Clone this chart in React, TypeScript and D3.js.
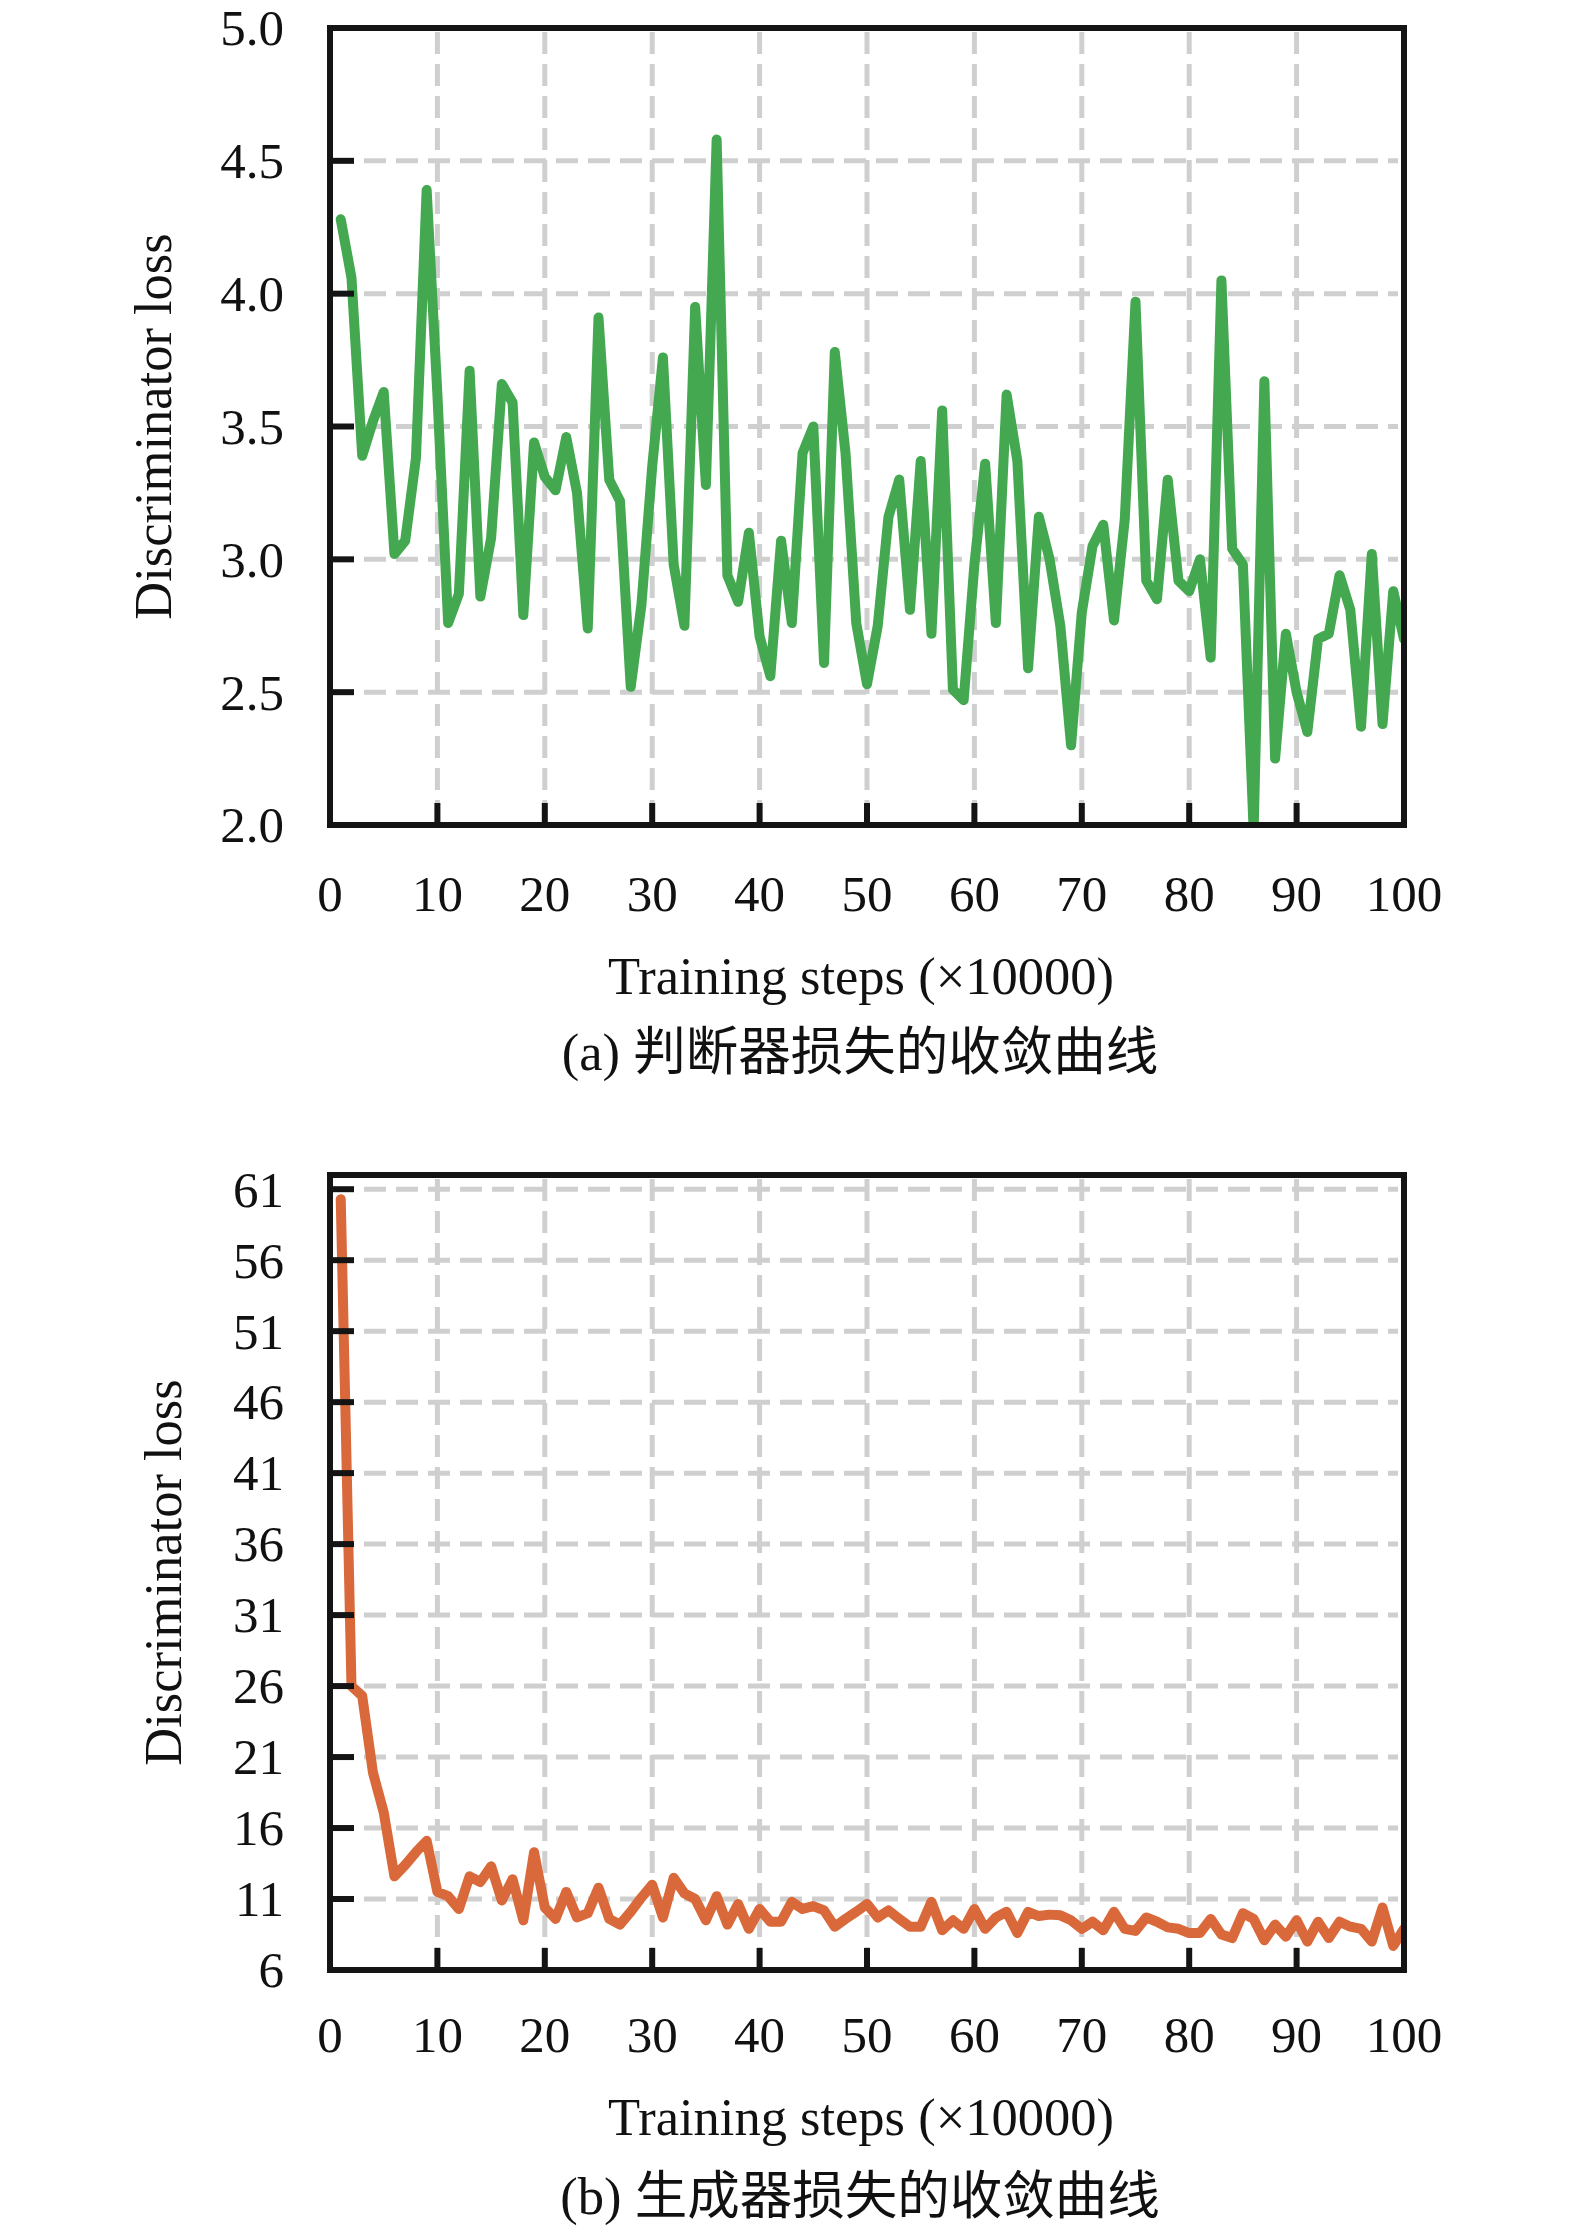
import { useEffect, useRef } from 'react';
import * as d3 from 'd3';

// x axis ticks (training steps, x10000)
const xTicks = [0, 10, 20, 30, 40, 50, 60, 70, 80, 90, 100];

// (a) discriminator loss
const discTicks = [2.0, 2.5, 3.0, 3.5, 4.0, 4.5, 5.0];
const discLoss = [
  4.28, 4.06, 3.39, 3.52, 3.63, 3.02, 3.07, 3.38, 4.39, 3.62,
  2.76, 2.87, 3.71, 2.86, 3.08, 3.66, 3.59, 2.79, 3.44, 3.31,
  3.26, 3.46, 3.25, 2.74, 3.91, 3.30, 3.22, 2.52, 2.83, 3.35,
  3.76, 2.98, 2.75, 3.95, 3.28, 4.58, 2.94, 2.84, 3.10, 2.71,
  2.56, 3.07, 2.76, 3.40, 3.50, 2.61, 3.78, 3.40, 2.76, 2.53,
  2.75, 3.16, 3.30, 2.81, 3.37, 2.72, 3.56, 2.51, 2.47, 2.98,
  3.36, 2.76, 3.62, 3.37, 2.59, 3.16, 3.00, 2.75, 2.30, 2.80,
  3.05, 3.13, 2.77, 3.15, 3.97, 2.92, 2.85, 3.30, 2.92, 2.88,
  3.00, 2.63, 4.05, 3.04, 2.98, 1.98, 3.67, 2.25, 2.72, 2.50,
  2.35, 2.70, 2.72, 2.94, 2.81, 2.37, 3.02, 2.38, 2.88, 2.70,
];

// (b) generator loss
const genTicks = [6, 11, 16, 21, 26, 31, 36, 41, 46, 51, 56, 61];
const genLoss = [
  60.3, 26.0, 25.3, 19.9, 17.1, 12.6, 13.4, 14.3, 15.1, 11.5,
  11.2, 10.3, 12.6, 12.2, 13.3, 10.9, 12.4, 9.5, 14.3, 10.4,
  9.6, 11.5, 9.7, 10.0, 11.8, 9.6, 9.2, 10.1, 11.1, 12.0,
  9.7, 12.5, 11.4, 11.0, 9.5, 11.2, 9.2, 10.65, 8.9, 10.3,
  9.4, 9.4, 10.8, 10.3, 10.5, 10.2, 9.05, 9.6, 10.1, 10.65,
  9.7, 10.2, 9.6, 9.05, 9.05, 10.8, 8.8, 9.5, 8.9, 10.3,
  8.9, 9.7, 10.1, 8.6, 10.1, 9.8, 9.9, 9.85, 9.5, 8.9,
  9.4, 8.8, 10.1, 8.9, 8.75, 9.7, 9.4, 9.0, 8.9, 8.6,
  8.6, 9.6, 8.5, 8.25, 10.0, 9.6, 8.1, 9.2, 8.35, 9.5,
  8.0, 9.4, 8.25, 9.4, 9.05, 8.9, 8.0, 10.4, 7.7, 8.9,
];

const W = 1575;
const H = 2230;
const FONT = '"Liberation Serif", "Times New Roman", "Noto Sans CJK SC", serif';
const TICK_FS = 51;
const LABEL_FS = 52.5;

type Panel = {
  id: string;
  values: number[];
  ticks: number[];
  domain: [number, number];
  top: number;
  bottom: number;
  color: string;
  fmt: (v: number) => string;
  caption: string;
  yLabelX: number;
  tickY: number;
  xLabelY: number;
  captionY: number;
};

function drawPanel(svg: d3.Selection<SVGSVGElement, unknown, null, undefined>, p: Panel) {
  const left = 330, right = 1404;
  const x = d3.scaleLinear().domain([0, 100]).range([left, right]);
  const y = d3.scaleLinear().domain(p.domain).range([p.bottom, p.top]);
  const g = svg.append('g');

  g.append('clipPath').attr('id', p.id)
    .append('rect')
    .attr('x', left).attr('y', p.top)
    .attr('width', right - left).attr('height', p.bottom - p.top);

  // --- GRID ---
  const grid = g.append('g')
    .attr('stroke', '#cfcfcf')
    .attr('stroke-width', 5)
    .attr('stroke-dasharray', '22,10');
  grid.selectAll('line.v')
    .data(xTicks.filter(t => t > 0 && t < 100))
    .join('line')
    .attr('class', 'v')
    .attr('x1', d => x(d)).attr('x2', d => x(d))
    .attr('y1', p.top + 4).attr('y2', p.bottom);
  grid.selectAll('line.h')
    .data(p.ticks.filter(t => t > p.domain[0] && t < p.domain[1]))
    .join('line')
    .attr('class', 'h')
    .attr('x1', left + 34).attr('x2', right - 6)
    .attr('y1', d => y(d)).attr('y2', d => y(d));

  // --- LINE ---
  const line = d3.line<number>()
    .x((_, i) => x(i + 1))
    .y(d => y(d));
  g.append('path')
    .datum(p.values)
    .attr('clip-path', `url(#${p.id})`)
    .attr('d', line)
    .attr('fill', 'none')
    .attr('stroke', p.color)
    .attr('stroke-width', 10)
    .attr('stroke-linejoin', 'round')
    .attr('stroke-linecap', 'round');

  // --- FRAME & TICKS ---
  const ink = '#141414';
  g.append('g')
    .selectAll('line')
    .data(xTicks.filter(t => t > 0 && t < 100))
    .join('line')
    .attr('x1', d => x(d)).attr('x2', d => x(d))
    .attr('y1', p.bottom).attr('y2', p.bottom - 22)
    .attr('stroke', ink).attr('stroke-width', 6);
  g.append('g')
    .selectAll('line')
    .data(p.ticks.filter(t => t > p.domain[0] && t < p.domain[1]))
    .join('line')
    .attr('x1', left).attr('x2', left + 24)
    .attr('y1', d => y(d)).attr('y2', d => y(d))
    .attr('stroke', ink).attr('stroke-width', 6);
  g.append('rect')
    .attr('x', left).attr('y', p.top)
    .attr('width', right - left).attr('height', p.bottom - p.top)
    .attr('fill', 'none')
    .attr('stroke', ink)
    .attr('stroke-width', 6);

  // --- TICK LABELS ---
  const txt = g.append('g')
    .attr('font-family', FONT)
    .attr('fill', '#111');
  txt.selectAll('text.xt')
    .data(xTicks)
    .join('text')
    .attr('class', 'xt')
    .attr('x', d => x(d))
    .attr('y', p.tickY)
    .attr('font-size', TICK_FS)
    .attr('text-anchor', 'middle')
    .text(d => String(d));
  txt.selectAll('text.yt')
    .data(p.ticks)
    .join('text')
    .attr('class', 'yt')
    .attr('x', 284)
    .attr('y', d => y(d))
    .attr('dy', '0.34em')
    .attr('font-size', TICK_FS)
    .attr('text-anchor', 'end')
    .text(d => p.fmt(d));

  // --- AXIS LABELS ---
  txt.append('text')
    .attr('x', 861)
    .attr('y', p.xLabelY)
    .attr('font-size', LABEL_FS)
    .attr('text-anchor', 'middle')
    .text('Training steps (×10000)');
  txt.append('text')
    .attr('transform', `translate(${p.yLabelX},${(p.top + p.bottom) / 2}) rotate(-90)`)
    .attr('dy', '0.34em')
    .attr('font-size', LABEL_FS)
    .attr('text-anchor', 'middle')
    .text('Discriminator loss');
  txt.append('text')
    .attr('x', 860)
    .attr('y', p.captionY)
    .attr('font-size', LABEL_FS)
    .attr('text-anchor', 'middle')
    .text(p.caption);
}

export default function App() {
  const svgRef = useRef<SVGSVGElement | null>(null);

  useEffect(() => {
    document.body.style.margin = '0';
    if (!svgRef.current) return;
    const svg = d3.select(svgRef.current);
    svg.selectAll('*').remove();

    drawPanel(svg, {
      id: 'clip-a',
      values: discLoss,
      ticks: discTicks,
      domain: [2.0, 5.0],
      top: 28,
      bottom: 825,
      color: '#43a84f',
      fmt: d3.format('.1f'),
      caption: '(a) 判断器损失的收敛曲线',
      yLabelX: 153,
      tickY: 911,
      xLabelY: 994,
      captionY: 1070,
    });
    drawPanel(svg, {
      id: 'clip-b',
      values: genLoss,
      ticks: genTicks,
      domain: [6, 62],
      top: 1175,
      bottom: 1970,
      color: '#d9693a',
      fmt: d3.format('d'),
      caption: '(b) 生成器损失的收敛曲线',
      yLabelX: 163,
      tickY: 2052,
      xLabelY: 2135,
      captionY: 2214,
    });
  }, []);

  return (
    <svg
      ref={svgRef}
      width={W}
      height={H}
      viewBox={`0 0 ${W} ${H}`}
      style={{ display: 'block', background: '#fff' }}
    />
  );
}
